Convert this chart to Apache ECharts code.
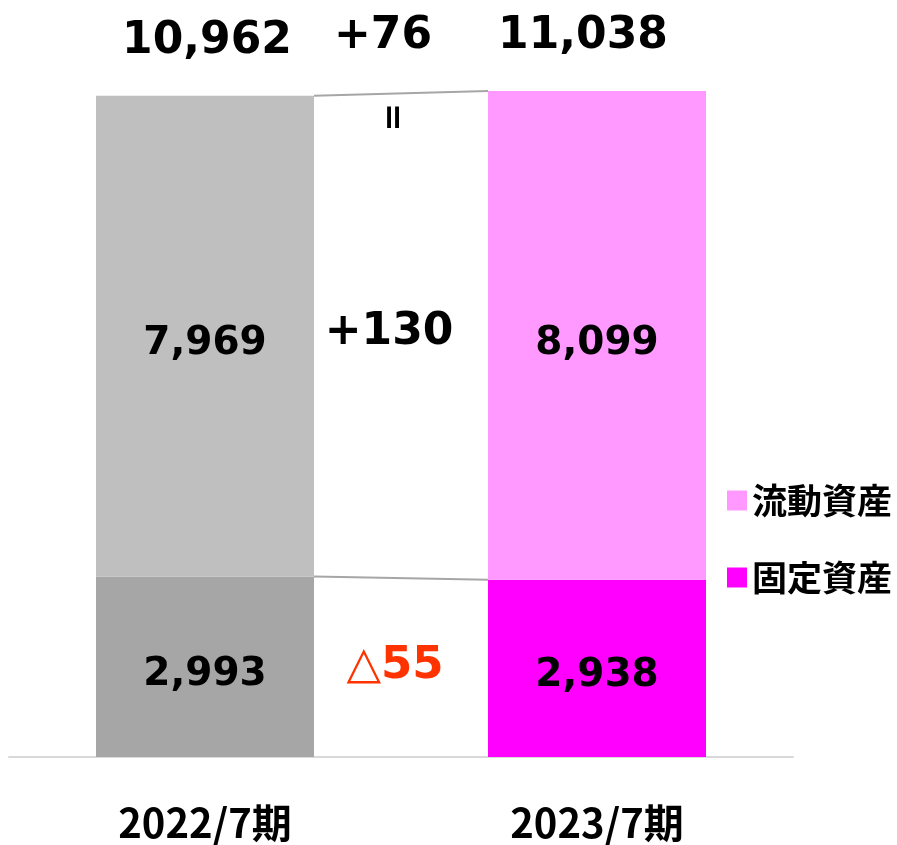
<!DOCTYPE html>
<html>
<head>
<meta charset="utf-8">
<script src="https://cdn.jsdelivr.net/npm/echarts@6/dist/echarts.min.js"></script>
<style>
  html, body { margin: 0; padding: 0; background: #fff; }
  #main { width: 897px; height: 845px; }
</style>
</head>
<body>
<div id="main"></div>
<script>
// 期別の資産構成（百万円）
var categories = ['2022/7期', '2023/7期'];
var fixedAssets = [2993, 2938];     // 固定資産
var currentAssets = [7969, 8099];   // 流動資産
var totals = [10962, 11038];        // 資産合計（表示値）
var fixedColors = ['#A6A6A6', '#FF00FF'];
var currentColors = ['#BFBFBF', '#FF99FF'];

var BAR_W = 218;
var NUM_FONT = "'DejaVu Sans', 'Noto Sans CJK JP', sans-serif";
var JP_FONT = "'Noto Sans CJK JP', sans-serif";

function fmt(v) {
    return v.toLocaleString('en-US');
}
function diffText(v) {
    // マイナスは△で表示
    return v < 0 ? '△' + fmt(-v) : '+' + fmt(v);
}

var barLabel = {
    show: true,
    position: 'inside',
    offset: [0, 8],
    formatter: function (p) { return fmt(p.value); },
    color: '#000',
    fontFamily: NUM_FONT,
    fontSize: 39,
    fontWeight: 'bold'
};

var option = {
    animation: false,
    grid: { left: 9, right: 104, top: 33, bottom: 88 },
    legend: {
        orient: 'vertical',
        left: 722,
        top: 478,
        itemWidth: 20,
        itemHeight: 20,
        itemGap: 42,
        icon: 'rect',
        data: ['流動資産', '固定資産'],
        textStyle: { fontFamily: JP_FONT, fontSize: 35, lineHeight: 35, fontWeight: 'bold', color: '#000' }
    },
    xAxis: {
        type: 'category',
        data: categories,
        axisTick: { show: false },
        axisLine: { lineStyle: { color: '#D9D9D9', width: 2 } },
        axisLabel: {
            margin: 46,
            color: '#000',
            fontFamily: JP_FONT,
            fontSize: 40,
            fontWeight: 'bold'
        }
    },
    yAxis: {
        type: 'value',
        min: 0,
        max: 12000,
        show: false,
        splitLine: { show: false }
    },
    series: [
        {
            name: '固定資産',
            type: 'bar',
            stack: 'assets',
            barWidth: BAR_W,
            itemStyle: { color: fixedColors[1] },
            label: barLabel,
            data: fixedAssets.map(function (v, i) {
                return { value: v, itemStyle: { color: fixedColors[i] } };
            })
        },
        {
            name: '流動資産',
            type: 'bar',
            stack: 'assets',
            barWidth: BAR_W,
            itemStyle: { color: currentColors[1] },
            label: barLabel,
            data: currentAssets.map(function (v, i) {
                return { value: v, itemStyle: { color: currentColors[i] } };
            })
        },
        {
            // 増減の連結線と注記
            type: 'custom',
            clip: false,
            silent: true,
            z: 5,
            data: [[0]],
            renderItem: function (params, api) {
                var a0 = api.coord([0, fixedAssets[0]]);
                var a1 = api.coord([1, fixedAssets[1]]);
                var t0 = api.coord([0, totals[0]]);
                var t1 = api.coord([1, totals[1]]);
                var base = api.coord([0, 0]);
                var x0 = a0[0] + BAR_W / 2;
                var x1 = a1[0] - BAR_W / 2;
                var mx = (x0 + x1) / 2;
                var lineStyle = { stroke: '#A6A6A6', lineWidth: 2 };
                var big = function (txt, x, y, color, size) {
                    return {
                        type: 'text',
                        style: {
                            text: txt, x: x, y: y,
                            align: 'center', verticalAlign: 'middle',
                            fill: color || '#000',
                            font: 'bold ' + (size || 44) + 'px ' + NUM_FONT
                        }
                    };
                };
                var midCurY = ((t0[1] + a0[1]) / 2 + (t1[1] + a1[1]) / 2) / 2;
                var midFixY = ((a0[1] + base[1]) / 2 + (a1[1] + base[1]) / 2) / 2;
                var dFixed = fixedAssets[1] - fixedAssets[0];
                var dCur = currentAssets[1] - currentAssets[0];
                return {
                    type: 'group',
                    children: [
                        { type: 'line', shape: { x1: x0, y1: t0[1], x2: x1, y2: t1[1] }, style: lineStyle },
                        { type: 'line', shape: { x1: x0, y1: a0[1], x2: x1, y2: a1[1] }, style: lineStyle },
                        big(fmt(totals[0]), t0[0] + 2, t0[1] - 54),
                        big(fmt(totals[1]), t1[0] - 14, t1[1] - 54),
                        big(diffText(totals[1] - totals[0]), mx - 18, (t0[1] + t1[1]) / 2 - 57),
                        {
                            type: 'text',
                            x: mx - 6, y: (t0[1] + t1[1]) / 2 + 24,
                            rotation: Math.PI / 2,
                            style: {
                                text: '=', x: 0, y: 0,
                                align: 'center', verticalAlign: 'middle',
                                fill: '#000',
                                font: 'bold 34px ' + NUM_FONT
                            }
                        },
                        big(diffText(dCur), mx - 12, midCurY - 3),
                        big(diffText(dFixed), mx - 6, midFixY - 1, '#FF3300', 45)
                    ]
                };
            }
        }
    ]
};

var myChart = echarts.init(document.getElementById('main'));
myChart.setOption(option);
</script>
</body>
</html>
